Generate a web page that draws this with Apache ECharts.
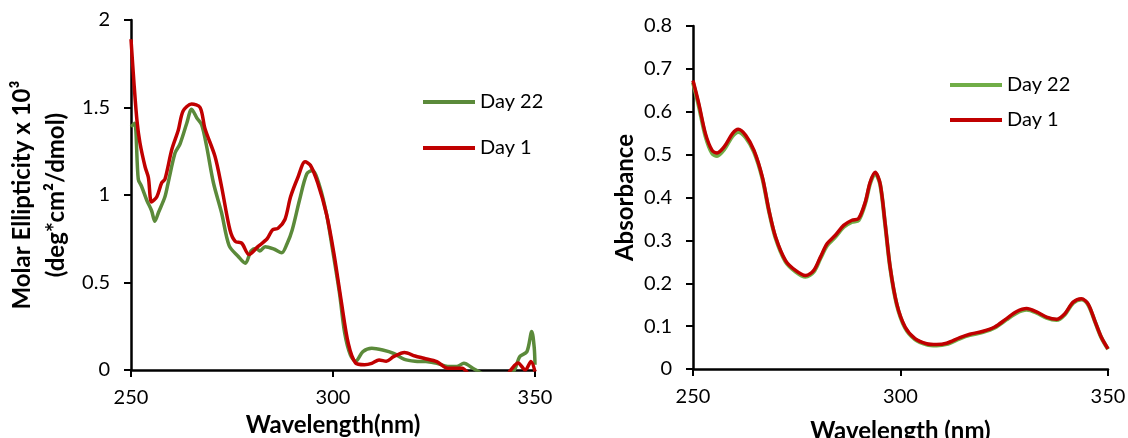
<!DOCTYPE html>
<html>
<head>
<meta charset="utf-8">
<script src="https://cdn.jsdelivr.net/npm/echarts@6/dist/echarts.min.js"></script>
<style>
  html, body { margin: 0; padding: 0; background: #fff; }
  #chart { width: 1128px; height: 438px; }
</style>
</head>
<body>
<div id="chart"></div>
<script>
// Données : [longueur d'onde (nm), valeur]
const xTicks = [250, 300, 350];

// Dichroïsme circulaire (ellipticité molaire x 10^3)
const cdDay22 = [
    [250, 1.39], [250.9, 1.41], [251.8, 1.09], [252.6, 1.05], [253.9, 0.97], [255.1, 0.91],
    [255.9, 0.85], [256.8, 0.90], [258.4, 0.99], [259.2, 1.07], [260.9, 1.24], [262.1, 1.29],
    [263.8, 1.41], [265, 1.49], [266.3, 1.44], [267.5, 1.40], [268.7, 1.28], [270.4, 1.07],
    [272.4, 0.90], [274.3, 0.71], [276.5, 0.65], [278.3, 0.61], [279.7, 0.68], [281, 0.695],
    [281.9, 0.68], [283.2, 0.705], [285.5, 0.69], [287.3, 0.67], [288.6, 0.72], [289.9, 0.80],
    [291.7, 0.97], [293.5, 1.12], [294.9, 1.14], [296.7, 1.05], [298.4, 0.89], [299.8, 0.70],
    [301.6, 0.44], [302.9, 0.21], [304.3, 0.086], [305.6, 0.05], [307.4, 0.105], [309.6, 0.124],
    [312.3, 0.114], [315, 0.095], [317.7, 0.061], [320.3, 0.05], [323, 0.048], [325.7, 0.038],
    [328.4, 0.02], [330.6, 0.02], [332.4, 0.038], [334.6, 0.01], [336.9, -0.02], [340, -0.05],
    [343, -0.03], [344.9, 0.0], [346.2, 0.076], [348, 0.105], [349.2, 0.22], [349.8, 0.13],
    [350, 0.03]
];
const cdDay1 = [
    [250, 1.89], [250.8, 1.62], [251.5, 1.42], [252.2, 1.30], [253.5, 1.16], [254.3, 1.10],
    [255.1, 0.96], [256.4, 0.99], [257.6, 1.07], [258.4, 1.09], [260.1, 1.26], [261.7, 1.37],
    [262.9, 1.48], [265, 1.52], [267.1, 1.50], [268.3, 1.38], [270.8, 1.22], [272.4, 1.05],
    [274.5, 0.80], [275.8, 0.735], [277.4, 0.725], [279.2, 0.66], [281.4, 0.705], [283.7, 0.75],
    [285, 0.80], [286.4, 0.81], [288.1, 0.86], [289.5, 0.99], [291.3, 1.10], [293.1, 1.19],
    [294.4, 1.17], [296.2, 1.07], [298.4, 0.89], [300.2, 0.67], [302, 0.40], [303.8, 0.15],
    [305.6, 0.04], [307.8, 0.03], [309.6, 0.038], [311.4, 0.057], [313.2, 0.05], [315, 0.076],
    [317.7, 0.10], [320.3, 0.08], [322.5, 0.067], [325.7, 0.048], [328.4, 0.01], [332, 0.01],
    [333.5, -0.02], [336, -0.05], [340, -0.06], [343, -0.03], [344, 0.0], [345.8, 0.04],
    [347.6, 0.0], [349, 0.048], [350, -0.01]
];

// Absorbance UV-visible
const absDay22 = [
    [250, 0.668], [251.4, 0.613], [253, 0.543], [254.6, 0.503], [255.8, 0.497], [257.5, 0.512],
    [259.5, 0.543], [260.9, 0.553], [262.7, 0.540], [264.7, 0.506], [266.7, 0.445], [268.3, 0.368],
    [269.9, 0.305], [272.3, 0.250], [274.7, 0.227], [277.1, 0.215], [279.1, 0.227], [280.7, 0.258],
    [282.3, 0.288], [284.3, 0.308], [286.3, 0.331], [288.3, 0.343], [289.9, 0.347], [291.5, 0.386],
    [292.7, 0.433], [293.9, 0.456], [295.1, 0.430], [296.3, 0.337], [297.5, 0.236], [299.1, 0.150],
    [301.1, 0.096], [303.5, 0.069], [306.3, 0.057], [308.7, 0.055], [311.1, 0.058], [314.3, 0.071],
    [316.7, 0.079], [319.9, 0.086], [322.7, 0.096], [325.5, 0.115], [328, 0.131], [330.4, 0.138],
    [332.8, 0.131], [335.2, 0.119], [337.6, 0.114], [339.6, 0.127], [341.6, 0.154], [343.6, 0.162],
    [345.2, 0.150], [346.8, 0.112], [348.4, 0.073], [350, 0.046]
];
const absDay1 = [
    [250, 0.673], [251.4, 0.619], [253, 0.549], [254.6, 0.510], [255.8, 0.504], [257.5, 0.518],
    [259.5, 0.549], [260.9, 0.559], [262.7, 0.545], [264.7, 0.510], [266.7, 0.448], [268.3, 0.370],
    [269.9, 0.308], [272.3, 0.253], [274.7, 0.230], [277.1, 0.218], [279.1, 0.230], [280.7, 0.261],
    [282.3, 0.292], [284.3, 0.312], [286.3, 0.335], [288.3, 0.347], [289.9, 0.351], [291.5, 0.389],
    [292.7, 0.436], [293.9, 0.459], [295.1, 0.432], [296.3, 0.339], [297.5, 0.238], [299.1, 0.152],
    [301.1, 0.098], [303.5, 0.071], [306.3, 0.059], [308.7, 0.057], [311.1, 0.060], [314.3, 0.073],
    [316.7, 0.081], [319.9, 0.088], [322.7, 0.098], [325.5, 0.117], [328, 0.134], [330.4, 0.141],
    [332.8, 0.133], [335.2, 0.121], [337.6, 0.116], [339.6, 0.129], [341.6, 0.156], [343.6, 0.164],
    [345.2, 0.152], [346.8, 0.113], [348.4, 0.074], [350, 0.047]
];

const fontFamily = 'Lato, "Open Sans", sans-serif';

function makeXAxis(gridIndex, title, gap) {
    return {
        type: 'value',
        gridIndex: gridIndex,
        min: xTicks[0],
        max: xTicks[xTicks.length - 1],
        interval: xTicks[1] - xTicks[0],
        name: title,
        nameLocation: 'middle',
        nameGap: gap,
        nameTextStyle: { color: '#000', fontSize: 24, fontWeight: 'bold', fontFamily: fontFamily },
        axisLine: { onZero: false, lineStyle: { color: '#000', width: 2.5 } },
        axisTick: { show: true, inside: false, length: 7, lineStyle: { color: '#000', width: 2 } },
        axisLabel: { color: '#000', fontSize: 20, fontFamily: fontFamily, margin: 18 },
        splitLine: { show: false }
    };
}

function makeYAxis(gridIndex, max, interval, title, gap, lineHeight) {
    return {
        type: 'value',
        gridIndex: gridIndex,
        min: 0,
        max: max,
        interval: interval,
        name: title,
        nameLocation: 'middle',
        nameRotate: 90,
        nameGap: gap,
        nameTextStyle: {
            color: '#000', fontSize: 24, fontWeight: 'bold', fontFamily: fontFamily,
            lineHeight: lineHeight
        },
        axisLine: { show: true, lineStyle: { color: '#000', width: 2.5 } },
        axisTick: { show: true, inside: false, length: 7, lineStyle: { color: '#000', width: 2 } },
        axisLabel: { color: '#000', fontSize: 20, fontFamily: fontFamily, margin: 21 },
        splitLine: { show: false }
    };
}

function makeLine(name, data, color, axisIndex, width) {
    return {
        name: name,
        type: 'line',
        xAxisIndex: axisIndex,
        yAxisIndex: axisIndex,
        data: data,
        smooth: 0.3,
        symbol: 'none',
        clip: true,
        lineStyle: { color: color, width: width },
        itemStyle: { color: color }
    };
}

const legendText = { color: '#000', fontSize: 20, fontFamily: fontFamily };

const option = {
    backgroundColor: '#fff',
    animation: false,
    // outerBoundsMode 'none' : le titre de l'axe x du bas peut déborder comme dans l'original
    grid: [
        { left: 131, top: 20, width: 404, height: 350, outerBoundsMode: 'none' },
        { left: 693, top: 26, width: 415, height: 343, outerBoundsMode: 'none' }
    ],
    // Deux légendes, une par graphique
    legend: [
        {
            data: ['Day 22', 'Day 1'],
            left: 418, top: 87, orient: 'vertical',
            icon: 'rect', itemWidth: 52, itemHeight: 4, itemGap: 26,
            textStyle: legendText
        },
        {
            data: ['Day 22 ', 'Day 1 '],
            left: 945, top: 70, orient: 'vertical',
            icon: 'rect', itemWidth: 52, itemHeight: 4, itemGap: 15,
            textStyle: legendText
        }
    ],
    xAxis: [
        makeXAxis(0, 'Wavelength(nm)', 43),
        makeXAxis(1, 'Wavelength (nm)', 50)
    ],
    yAxis: [
        makeYAxis(0, 2, 0.5, 'Molar Ellipticity x 10³\n(deg*cm²/dmol)', 58, 34),
        makeYAxis(1, 0.8, 0.1, 'Absorbance', 56, 24)
    ],
    series: [
        makeLine('Day 22', cdDay22, '#5b8a3a', 0, 3.5),
        makeLine('Day 1', cdDay1, '#c00000', 0, 3.5),
        makeLine('Day 22 ', absDay22, '#70ad47', 1, 4),
        makeLine('Day 1 ', absDay1, '#c00000', 1, 3.5)
    ]
};

const chart = echarts.init(document.getElementById('chart'), null, { renderer: 'canvas' });
chart.setOption(option);
</script>
</body>
</html>
